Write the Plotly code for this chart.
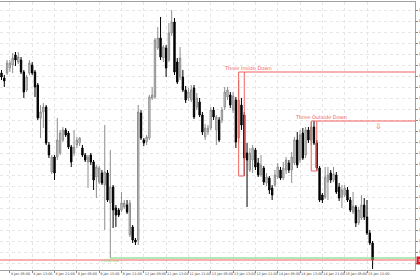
import plotly.graph_objects as go

# ---------------- data (hourly bars) ----------------
open_ = [1.3727, 1.3722, 1.3727, 1.3732, 1.3735, 1.3745, 1.3738, 1.3740, 1.3728, 1.3710,
         1.3727, 1.3735, 1.3728, 1.3715, 1.3682, 1.3688, 1.3693, 1.3655, 1.3628, 1.3643,
         1.3643, 1.3647, 1.3660, 1.3670, 1.3667, 1.3653, 1.3647, 1.3655, 1.3657, 1.3652,
         1.3645, 1.3638, 1.3645, 1.3638, 1.3623, 1.3618, 1.3627, 1.3615, 1.3627, 1.3597,
         1.3613, 1.3592, 1.3590, 1.3590, 1.3593, 1.3595, 1.3565, 1.3573, 1.3560, 1.3560,
         1.3687, 1.3660, 1.3658, 1.3662, 1.3702, 1.3703, 1.3752, 1.3762, 1.3742, 1.3752,
         1.3740, 1.3767, 1.3778, 1.3738, 1.3723, 1.3723, 1.3710, 1.3702, 1.3700, 1.3712,
         1.3693, 1.3698, 1.3685, 1.3663, 1.3668, 1.3672, 1.3690, 1.3670, 1.3680, 1.3680,
         1.3693, 1.3703, 1.3705, 1.3690, 1.3700, 1.3662, 1.3695, 1.3685, 1.3647, 1.3630,
         1.3640, 1.3650, 1.3637, 1.3625, 1.3632, 1.3617, 1.3622, 1.3612, 1.3615, 1.3623,
         1.3630, 1.3622, 1.3630, 1.3637, 1.3630, 1.3637, 1.3660, 1.3640, 1.3667, 1.3645,
         1.3670, 1.3660, 1.3673, 1.3657, 1.3632, 1.3605, 1.3603, 1.3618, 1.3627, 1.3620,
         1.3625, 1.3613, 1.3603, 1.3605, 1.3610, 1.3600, 1.3588, 1.3593, 1.3577, 1.3582,
         1.3595, 1.3583, 1.3567, 1.3557]
high = [1.3730, 1.3725, 1.3740, 1.3740, 1.3747, 1.3748, 1.3748, 1.3743, 1.3730, 1.3725,
        1.3740, 1.3738, 1.3730, 1.3717, 1.3695, 1.3697, 1.3695, 1.3658, 1.3645, 1.3645,
        1.3682, 1.3670, 1.3673, 1.3672, 1.3669, 1.3655, 1.3670, 1.3663, 1.3663, 1.3655,
        1.3647, 1.3645, 1.3647, 1.3640, 1.3635, 1.3634, 1.3630, 1.3675, 1.3630, 1.3650,
        1.3615, 1.3595, 1.3592, 1.3608, 1.3600, 1.3600, 1.3600, 1.3575, 1.3562, 1.3695,
        1.3690, 1.3662, 1.3665, 1.3705, 1.3713, 1.3762, 1.3773, 1.3783, 1.3755, 1.3755,
        1.3777, 1.3790, 1.3782, 1.3742, 1.3753, 1.3730, 1.3714, 1.3712, 1.3715, 1.3715,
        1.3707, 1.3702, 1.3688, 1.3676, 1.3675, 1.3693, 1.3693, 1.3685, 1.3683, 1.3693,
        1.3713, 1.3713, 1.3708, 1.3708, 1.3703, 1.3720, 1.3702, 1.3688, 1.3657, 1.3652,
        1.3655, 1.3652, 1.3642, 1.3645, 1.3634, 1.3627, 1.3624, 1.3615, 1.3630, 1.3637,
        1.3633, 1.3638, 1.3643, 1.3640, 1.3648, 1.3663, 1.3668, 1.3670, 1.3672, 1.3673,
        1.3673, 1.3678, 1.3679, 1.3660, 1.3634, 1.3607, 1.3633, 1.3633, 1.3630, 1.3633,
        1.3628, 1.3617, 1.3615, 1.3615, 1.3613, 1.3603, 1.3608, 1.3595, 1.3593, 1.3605,
        1.3602, 1.3600, 1.3570, 1.3559]
low = [1.3720, 1.3713, 1.3725, 1.3728, 1.3727, 1.3734, 1.3736, 1.3726, 1.3702, 1.3708,
       1.3725, 1.3725, 1.3703, 1.3680, 1.3662, 1.3672, 1.3655, 1.3642, 1.3626, 1.3620,
       1.3640, 1.3645, 1.3658, 1.3663, 1.3651, 1.3633, 1.3644, 1.3652, 1.3654, 1.3643,
       1.3638, 1.3612, 1.3635, 1.3610, 1.3602, 1.3616, 1.3615, 1.3570, 1.3598, 1.3542,
       1.3572, 1.3573, 1.3583, 1.3588, 1.3591, 1.3586, 1.3563, 1.3557, 1.3555, 1.3555,
       1.3660, 1.3654, 1.3655, 1.3660, 1.3700, 1.3701, 1.3750, 1.3740, 1.3738, 1.3723,
       1.3738, 1.3764, 1.3725, 1.3716, 1.3720, 1.3708, 1.3697, 1.3699, 1.3698, 1.3681,
       1.3690, 1.3683, 1.3665, 1.3660, 1.3665, 1.3670, 1.3680, 1.3655, 1.3658, 1.3677,
       1.3690, 1.3700, 1.3692, 1.3687, 1.3652, 1.3657, 1.3670, 1.3624, 1.3593, 1.3628,
       1.3627, 1.3630, 1.3623, 1.3623, 1.3615, 1.3614, 1.3606, 1.3600, 1.3613, 1.3621,
       1.3620, 1.3620, 1.3626, 1.3627, 1.3617, 1.3635, 1.3632, 1.3637, 1.3640, 1.3642,
       1.3657, 1.3655, 1.3655, 1.3629, 1.3598, 1.3597, 1.3601, 1.3600, 1.3617, 1.3618,
       1.3606, 1.3599, 1.3592, 1.3603, 1.3598, 1.3588, 1.3586, 1.3573, 1.3575, 1.3580,
       1.3580, 1.3565, 1.3555, 1.3531]
close = [1.3723, 1.3719, 1.3737, 1.3737, 1.3742, 1.3740, 1.3743, 1.3728, 1.3708, 1.3723,
         1.3737, 1.3727, 1.3713, 1.3682, 1.3688, 1.3693, 1.3657, 1.3645, 1.3643, 1.3627,
         1.3660, 1.3667, 1.3670, 1.3665, 1.3653, 1.3638, 1.3653, 1.3660, 1.3662, 1.3645,
         1.3640, 1.3643, 1.3638, 1.3620, 1.3633, 1.3632, 1.3617, 1.3628, 1.3600, 1.3613,
         1.3590, 1.3585, 1.3585, 1.3597, 1.3597, 1.3588, 1.3597, 1.3560, 1.3558, 1.3688,
         1.3662, 1.3657, 1.3663, 1.3703, 1.3705, 1.3760, 1.3762, 1.3743, 1.3753, 1.3732,
         1.3767, 1.3778, 1.3728, 1.3718, 1.3742, 1.3710, 1.3700, 1.3708, 1.3710, 1.3683,
         1.3702, 1.3685, 1.3668, 1.3672, 1.3672, 1.3690, 1.3683, 1.3683, 1.3660, 1.3690,
         1.3708, 1.3710, 1.3695, 1.3704, 1.3658, 1.3700, 1.3675, 1.3642, 1.3640, 1.3647,
         1.3652, 1.3633, 1.3625, 1.3635, 1.3618, 1.3623, 1.3610, 1.3605, 1.3625, 1.3633,
         1.3622, 1.3632, 1.3640, 1.3630, 1.3643, 1.3660, 1.3635, 1.3665, 1.3642, 1.3670,
         1.3660, 1.3673, 1.3657, 1.3632, 1.3600, 1.3600, 1.3623, 1.3625, 1.3620, 1.3626,
         1.3608, 1.3602, 1.3610, 1.3612, 1.3600, 1.3590, 1.3594, 1.3577, 1.3590, 1.3595,
         1.3583, 1.3567, 1.3557, 1.3540]
bars = list(range(len(close)))

time_tick_bars = [3, 11, 19, 27, 35, 43, 51, 59, 67, 75, 83, 91, 99, 107, 115, 123, 131]
time_tick_text = ["8 Jan 05:00", "8 Jan 13:00", "8 Jan 21:00", "9 Jan 05:00", "9 Jan 13:00",
                  "9 Jan 21:00", "12 Jan 05:00", "12 Jan 13:00", "12 Jan 21:00",
                  "13 Jan 05:00", "13 Jan 13:00", "13 Jan 21:00", "14 Jan 05:00",
                  "14 Jan 13:00", "14 Jan 21:00", "15 Jan 05:00", "15 Jan 13:00"]
price_ticks = [round(1.3790 - 0.0011 * k, 4) for k in range(24)]

# candlestick patterns: name, first bar, last bar, top level, bottom level
pattern_names = ["Three Inside Down", "Three Outside Down"]
pattern_first = [85, 111]
pattern_last = [87, 113]
pattern_top = [1.3728, 1.3679]
pattern_bottom = [1.3624, 1.3629]

lowest_bar = 39
lowest_price = 1.3542
bid_price = 1.3540
signal_bar = 135
x_range = [-0.54, 148.2]
y_range = [1.3530, 1.3798]

RED = "#f26060"
GREEN = "#6cd26c"

fig = go.Figure()
fig.add_trace(go.Candlestick(
    x=bars, open=open_, high=high, low=low, close=close,
    increasing=dict(line=dict(color="#8e8e8e", width=1), fillcolor="#d6d6d6"),
    decreasing=dict(line=dict(color="#000000", width=1), fillcolor="#000000"),
    whiskerwidth=0, showlegend=False, hoverinfo="skip"))

shapes = []
annotations = []
for name, b0, b1, top, bot in zip(pattern_names, pattern_first, pattern_last,
                                  pattern_top, pattern_bottom):
    shapes.append(dict(type="rect", xref="x", yref="y", x0=b0, x1=b1, y0=bot, y1=top,
                       line=dict(color=RED, width=1), fillcolor="rgba(0,0,0,0)"))
    shapes.append(dict(type="line", xref="x", yref="y", x0=b1, x1=x_range[1],
                       y0=top, y1=top, line=dict(color=RED, width=1)))
    annotations.append(dict(x=b1, y=top, xref="x", yref="y", text=name,
                            showarrow=False, xanchor="center", yanchor="bottom",
                            yshift=-1, xshift=4, font=dict(size=5, color=RED,
                                                           family="DejaVu Sans")))

# lowest low line
shapes.append(dict(type="line", xref="x", yref="y", x0=lowest_bar, x1=x_range[1],
                   y0=lowest_price, y1=lowest_price, line=dict(color=GREEN, width=1)))
annotations.append(dict(x=lowest_bar, y=lowest_price, xref="x", yref="y",
                        text="1.3542 Low", showarrow=False, xanchor="center",
                        yanchor="top", yshift=1,
                        font=dict(size=3, color=GREEN, family="DejaVu Sans")))
# bid line
shapes.append(dict(type="line", xref="paper", yref="y", x0=0, x1=1,
                   y0=bid_price, y1=bid_price, line=dict(color=RED, width=1)))
annotations.append(dict(x=1, y=bid_price, xref="paper", yref="y", text="1.3540",
                        showarrow=False, xanchor="left", yanchor="middle", xshift=1,
                        bgcolor="#d62020", font=dict(size=4, color="white",
                                                     family="DejaVu Sans")))
# sell signal arrow
annotations.append(dict(x=signal_bar, y=pattern_top[1], xref="x", yref="y", text="⇩",
                        showarrow=False, xanchor="center", yanchor="top", yshift=1,
                        font=dict(size=8, color=RED, family="DejaVu Sans")))

fig.update_layout(
    width=420, height=280,
    margin=dict(l=0, r=5, t=2, b=10, autoexpand=False),
    paper_bgcolor="white", plot_bgcolor="white",
    shapes=shapes, annotations=annotations,
    font=dict(family="DejaVu Sans", size=4, color="#444444"),
    xaxis=dict(range=x_range, rangeslider=dict(visible=False), automargin=False,
               tickmode="array", tickvals=time_tick_bars, ticktext=time_tick_text,
               tickangle=0,
               ticklabelposition="outside right", ticks="outside", ticklen=2,
               tickcolor="#888888", tickfont=dict(size=3.4, color="#444444"),
               showgrid=True, gridcolor="#e6e6e6", griddash="dot", gridwidth=1,
               showline=True, linecolor="#a0a0a0", linewidth=1, mirror=True,
               zeroline=False, fixedrange=True),
    yaxis=dict(range=y_range, side="right", automargin=False,
               tickmode="array", tickvals=price_ticks,
               ticktext=[f"{p:.4f}" for p in price_ticks],
               ticks="outside", ticklen=2, tickcolor="#888888",
               tickfont=dict(size=3.4, color="#444444"),
               showgrid=True, gridcolor="#e6e6e6", griddash="dot", gridwidth=1,
               showline=True, linecolor="#a0a0a0", linewidth=1,
               zeroline=False, fixedrange=True),
)

fig.write_html("out.html")
